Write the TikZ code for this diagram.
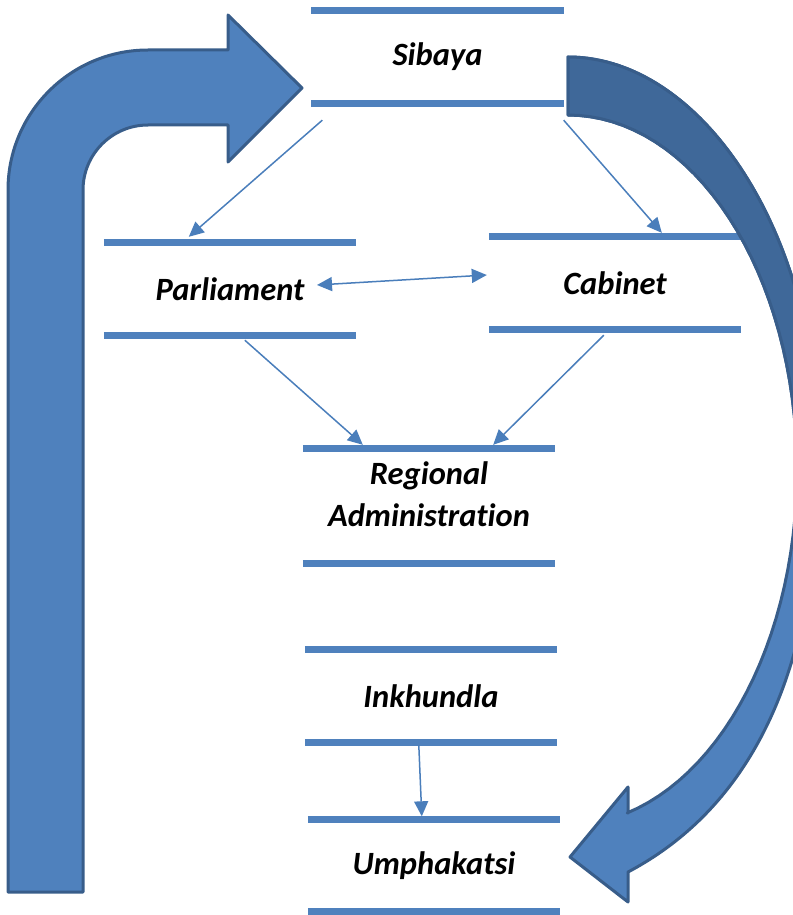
\documentclass[tikz,border=0pt]{standalone}
\usepackage{fontspec}
\setmainfont{Carlito}[Ligatures=NoCommon]
\usetikzlibrary{arrows.meta}

\definecolor{barblue}{HTML}{4F81BD}
\definecolor{lineblue}{HTML}{4A7EBB}
\definecolor{edgeblue}{HTML}{385D8A}
\definecolor{backblue}{HTML}{3F6899}

\begin{document}
\begin{tikzpicture}[x=1pt, y=-1pt,
  lvl/.style={minimum width=252pt, minimum height=92pt, inner sep=0pt, font=\fontsize{32.5}{42}\selectfont\bfseries\itshape},
  bar/.style={draw=barblue, line width=7pt},
  conn/.style={draw=lineblue, line width=1.5pt, -{Triangle[length=15pt,width=14pt]}},
  twoway/.style={draw=lineblue, line width=1.5pt, {Triangle[length=15pt,width=14pt]}-{Triangle[length=15pt,width=14pt]}},
  blockarrow/.style={fill=barblue, draw=edgeblue, line width=3pt, line join=round},
  backarrow/.style={fill=backblue, draw=edgeblue, line width=3pt, line join=round}
]
\useasboundingbox (0,0) rectangle (792,915);

\node[lvl] (sib) at (437.5,57) {Sibaya};
\node[lvl] (par) at (230,289) {Parliament};
\node[lvl] (cab) at (615,283) {Cabinet};
\node[lvl, minimum height=114pt, align=center, text depth=24pt] (reg) at (429,506) {Regional\\Administration};
\node[lvl] (ink) at (431,696) {Inkhundla};
\node[lvl] (ump) at (434,865.5) {Umphakatsi};

\draw[bar] (sib.north west) -- (sib.north east);
\draw[bar] (sib.south west) -- (sib.south east);
\draw[bar] (par.north west) -- (par.north east);
\draw[bar] (par.south west) -- (par.south east);
\draw[bar] (cab.north west) -- (cab.north east);
\draw[bar] (cab.south west) -- (cab.south east);
\draw[bar] (reg.north west) -- (reg.north east);
\draw[bar] (reg.south west) -- (reg.south east);
\draw[bar] (ink.north west) -- (ink.north east);
\draw[bar] (ink.south west) -- (ink.south east);
\draw[bar] (ump.north west) -- (ump.north east);
\draw[bar] (ump.south west) -- (ump.south east);

\draw[conn] ([shift={(11,17)}]sib.south west) -- ([shift={(85,-6)}]par.north west);
\draw[conn] ([shift={(0,17)}]sib.south east) -- ([shift={(173,-4)}]cab.north west);
\draw[twoway] ([shift={(87,-4)}]par.center) -- ([shift={(-2,-8)}]cab.west);
\draw[conn] ([shift={(141,5)}]par.south west) -- ([shift={(60,-4)}]reg.north west);
\draw[conn] ([shift={(115,6)}]cab.south west) -- ([shift={(-62,-4)}]reg.north east);
\draw[conn] ([shift={(114,3)}]ink.south west) -- ([shift={(114,-3)}]ump.north west);

% bent arrow up the left side
\draw[blockarrow] (8,892) -- (8,190) arc[start angle=180, end angle=90, radius=140pt]
  -- (228,50) -- (228,15) -- (302,88) -- (228,162) -- (228,125) -- (148,125)
  arc[start angle=90, end angle=180, radius=65pt] -- (83,892) -- cycle;

% curved arrow down the right side
\draw[blockarrow] (568,57) .. controls (700,57) and (818,230) .. (818,450)
  .. controls (820,680) and (745,810) .. (628,872) -- (628,902) -- (570,857) -- (628,787) -- (628,813)
  -- plot[domain=75:-90, samples=60] ({568+229*cos(\x)},{470+355*sin(\x)}) -- cycle;
\begin{scope}
\clip (540,0) rectangle (800,470);
\draw[backarrow] (568,57) .. controls (700,57) and (818,230) .. (818,450)
  .. controls (820,680) and (745,810) .. (628,872) -- (628,902) -- (570,857) -- (628,787) -- (628,813)
  -- plot[domain=75:-90, samples=60] ({568+229*cos(\x)},{470+355*sin(\x)}) -- cycle;
\end{scope}

\end{tikzpicture}
\end{document}
